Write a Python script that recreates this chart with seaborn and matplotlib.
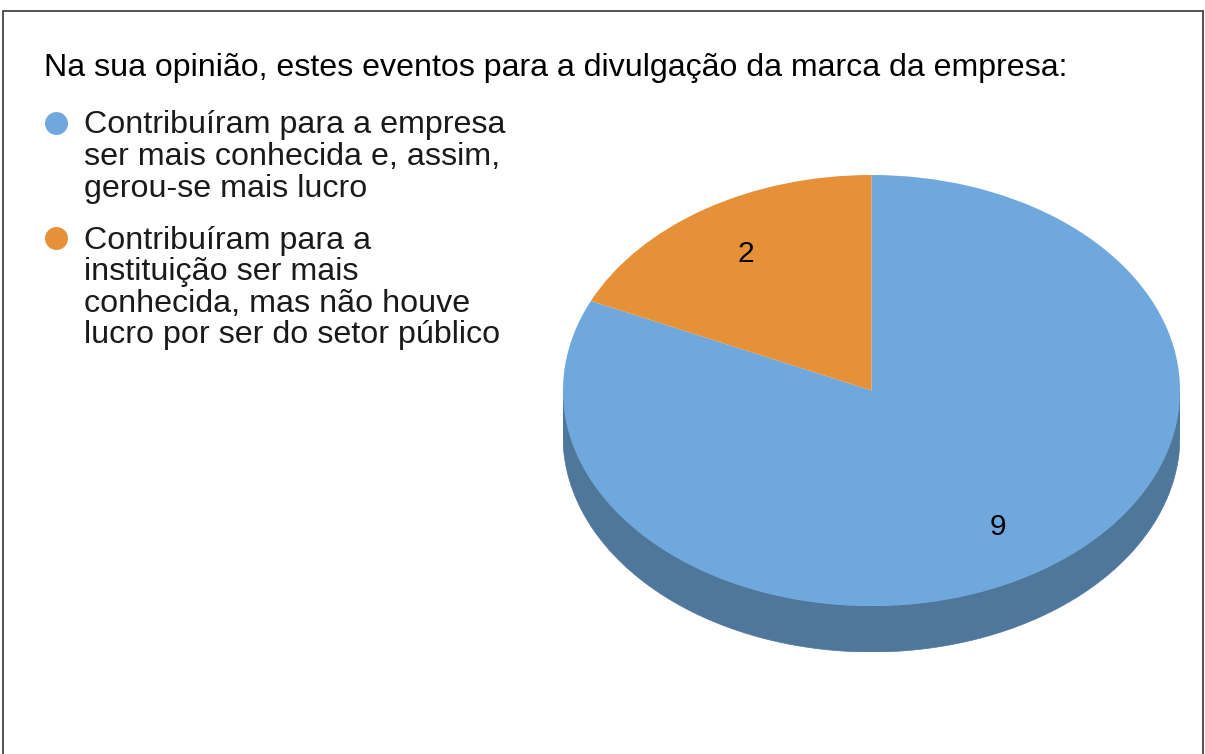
import numpy as np
import matplotlib
matplotlib.use('Agg')
import matplotlib.pyplot as plt
import seaborn as sns
from matplotlib.patches import Polygon, Rectangle
from matplotlib.lines import Line2D

sns.set_style('white')
plt.rcParams['font.family'] = ['Liberation Sans', 'DejaVu Sans']

TITLE = 'Na sua opinião, estes eventos para a divulgação da marca da empresa:'
answers = [
    'Contribuíram para a empresa\nser mais conhecida e, assim,\ngerou-se mais lucro',
    'Contribuíram para a\ninstituição ser mais\nconhecida, mas não houve\nlucro por ser do setor público',
]
counts = [9, 2]
colors = sns.color_palette(['#6fa8dc', '#e69138'])

W, H = 1205, 754
fig = plt.figure(figsize=(W / 100, H / 100), dpi=100)


def fx(px):
    return px / W


def fy(py):
    return 1 - py / H


# outer frame (bottom edge is cut off in the original)
fig.add_artist(Rectangle((fx(2.5), fy(790)), fx(1203 - 2.5), (790 - 10.5) / H,
                         transform=fig.transFigure, fill=False,
                         edgecolor='#444444', lw=1.3))

fig.text(fx(44), fy(76), TITLE, fontsize=23.1, va='baseline', ha='left', color='#000000')

# legend drawn by hand so markers sit on the first line
first_baselines = [133.5, 248.5]
line_step = 31.5
for label, color, base in zip(answers, colors, first_baselines):
    fig.add_artist(Line2D([fx(55.5)], [fy(base - 10.5)], marker='o', markersize=15.5,
                          color=color, transform=fig.transFigure))
    for i, line in enumerate(label.split('\n')):
        fig.text(fx(84), fy(base + i * line_step), line, fontsize=23.2,
                 va='baseline', ha='left', color='#1a1a1a')

# 3D-looking pie: squash a regular pie into an ellipse and add a side wall
depth = 46 / 215.5
ax = fig.add_axes([fx(563), fy(652), fx(1180 - 563), (652 - 175) / H])
total = sum(counts)
wedges, texts, autotexts = ax.pie(
    counts, colors=colors, startangle=90, counterclock=False,
    autopct=lambda p: f'{p * total / 100:.0f}', pctdistance=0.755,
    textprops=dict(fontsize=21.5, color='#000000'),
    wedgeprops=dict(linewidth=0, zorder=3))
for t in autotexts:
    t.set_zorder(5)
ax.set_aspect('auto')
ax.set_xlim(-1, 1)
ax.set_ylim(-1 - depth, 1)
ax.axis('off')

for w in wedges:
    c = np.array(w.get_facecolor()[:3]) * 0.71
    for shift in (-360, 0, 360):
        a = max(w.theta1 + shift, 180)
        b = min(w.theta2 + shift, 360)
        if b <= a:
            continue
        t = np.radians(np.linspace(a, b, 120))
        top = np.column_stack([np.cos(t), np.sin(t)])
        bot = np.column_stack([np.cos(t[::-1]), np.sin(t[::-1]) - depth])
        ax.add_patch(Polygon(np.vstack([top, bot]), closed=True,
                             facecolor=c, edgecolor=c, lw=0.5, zorder=1))

fig.savefig('out.png', dpi=100)
